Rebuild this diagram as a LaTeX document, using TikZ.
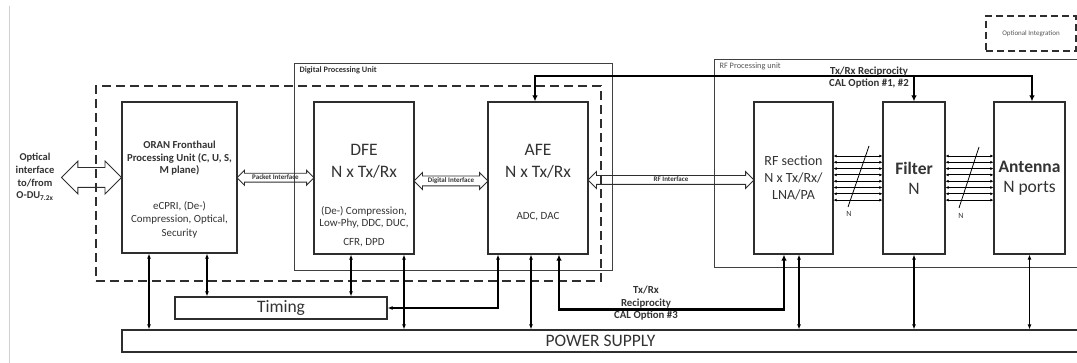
\documentclass[tikz,border=0pt]{standalone}
\usepackage{fontspec}
\setmainfont{Carlito}
\usetikzlibrary{arrows.meta,positioning,calc,shapes.arrows}
\definecolor{ink}{HTML}{333333}
\definecolor{edge}{HTML}{2E2E2E}
\definecolor{frame}{HTML}{404040}
\definecolor{hint}{HTML}{555555}
\definecolor{rim}{HTML}{D0D0D0}

\begin{document}
\begin{tikzpicture}[x=1pt,y=-1pt,
  block/.style={draw=edge,line width=1.2pt,inner sep=0pt,align=center,text=ink},
  unitbox/.style={draw=frame,line width=0.9pt,inner sep=0pt},
  optbox/.style={draw=edge,line width=1.4pt,dash pattern=on 9pt off 5pt,inner sep=0pt},
  big/.style={font=\fontsize{17.5}{22}\selectfont,text=ink,align=center},
  small/.style={font=\fontsize{11}{12.5}\selectfont,text=ink,align=center},
  tag/.style={font=\bfseries\fontsize{10.8}{12.8}\selectfont,text=ink,align=center},
  hollow/.style={double arrow,draw=edge,line width=0.9pt,inner xsep=0pt,
    font=\bfseries\fontsize{7}{8}\selectfont,text=ink,double arrow head extend=#1},
  link/.style={draw=black,line width=1.1pt,{Latex[length=5pt,width=4pt]}-{Latex[length=5pt,width=4pt]}},
  recip/.style={draw=black,line width=2.2pt,{Latex[length=6pt,width=5.5pt]}-{Latex[length=6pt,width=5.5pt]}},
  recipto/.style={draw=black,line width=2.2pt,-{Latex[length=6pt,width=5.5pt]}},
  bus/.style={draw=black,line width=0.8pt,{Latex[length=3pt,width=3pt]}-{Latex[length=3pt,width=3pt]}}]
  \useasboundingbox (0,0) rectangle (1077,363);
  \draw[rim,line width=1pt] (9.5,6) -- (9.5,363);

  % Unit frames
  \node[unitbox,minimum width=318,minimum height=207] (dpu) at (453,166.5) {};
  \node[font=\bfseries\fontsize{8.3}{10}\selectfont,text=ink,anchor=west] (dpuT) at (296,70) {Digital Processing Unit};
  \node[unitbox,minimum width=368,minimum height=208] (rfu) at (898,163) {};
  \node[font=\fontsize{8.3}{10}\selectfont,text=hint,anchor=west] (rfuT) at (716,66) {RF Processing unit};
  \node[optbox,minimum width=505,minimum height=195] (integ) at (348.5,183.5) {};
  \node[optbox,line width=1.2pt,dash pattern=on 7pt off 4pt,minimum width=90,minimum height=35,
    font=\fontsize{7}{8}\selectfont,text=hint] (legend) at (1031,33.5) {Optional Integration};

  % Blocks
  \node[block,minimum width=115,minimum height=151] (oran) at (179.5,177.5) {};
  \node[font=\bfseries\fontsize{10.7}{12.5}\selectfont,text=ink,align=center] (oranT) at (179.5,158.5)
    {ORAN Fronthaul\\Processing Unit (C, U, S,\\M plane)};
  \node[font=\fontsize{10.9}{13.5}\selectfont,text=ink,align=center] (oranS) at (179.5,219.5)
    {eCPRI, (De-)\\Compression, Optical,\\Security};
  \node[block,minimum width=100,minimum height=152] (dfe) at (364,178) {};
  \node[big] (dfeT) at (364,161) {DFE\\N x Tx/Rx};
  \node[small] (dfeS) at (364,226.5) {(De-) Compression,\\Low-Phy, DDC, DUC,\\[6pt]CFR, DPD};
  \node[block,minimum width=100,minimum height=152] (afe) at (538,178) {};
  \node[big] (afeT) at (538,161) {AFE\\N x Tx/Rx};
  \node[small] (afeS) at (538,217) {ADC, DAC};
  \node[block,minimum width=79,minimum height=152,font=\fontsize{14}{17}\selectfont] (rfsec) at (793.5,178)
    {RF section\\N x Tx/Rx/\\LNA/PA};
  \node[block,minimum width=62,minimum height=152,font=\fontsize{17.5}{20}\selectfont] (filter) at (914,178)
    {\textbf{Filter}\\N};
  \node[block,minimum width=71,minimum height=152,font=\fontsize{17.5}{20}\selectfont] (ant) at (1029.5,178)
    {\textbf{Antenna}\\N ports};
  \node[block,minimum width=212,minimum height=22,font=\fontsize{17.5}{20}\selectfont] (timing) at (281,308) {Timing};
  \node[block,minimum width=957,minimum height=22,font=\fontsize{17.5}{20}\selectfont] (power) at (600.5,341) {POWER SUPPLY};

  % Interfaces
  \node[font=\bfseries\fontsize{10.5}{12.7}\selectfont,text=ink,align=center] (optical) at (35,177)
    {Optical\\interface\\to/from\\O-DU\textsubscript{7.2x}};
  \path (oran.west) -- ++(-60,0) node[midway,hollow=6.5pt,minimum height=60,text height=19pt,text depth=0pt,inner ysep=0pt] (optarr) {};
  \path (oran.east) -- (dfe.west) node[midway,hollow=3pt,minimum height=77,text height=5.5pt,text depth=1.5pt,inner ysep=0.5pt] (pkt) {Packet Interface};
  \path ([yshift=-3pt]dfe.east) -- ([yshift=-3pt]afe.west) node[midway,hollow=3.5pt,minimum height=74,text height=5.5pt,text depth=1.5pt,inner ysep=1pt] (dig) {Digital Interface};
  \path ([yshift=-2pt]afe.east) -- ([yshift=-2pt]rfsec.west) node[midway,hollow=4pt,minimum height=166,text height=5.5pt,text depth=1.5pt,inner ysep=0.5pt] (rfif) {RF Interface};

  % N-wide buses
  \foreach \k [evaluate=\k as \yy using 156+6.3*\k] in {0,...,7} {
    \draw[bus] (rfsec.east |- 0,\yy) -- (filter.west |- 0,\yy);
    \draw[bus] (filter.east |- 0,\yy) -- (ant.west |- 0,\yy);
  }
  \draw[line width=0.8pt] (869,146) -- (848,207);
  \draw[line width=0.8pt] (979,147) -- (959,208);
  \node[font=\fontsize{8}{9}\selectfont,text=ink] (nA) at (849,214) {N};
  \node[font=\fontsize{8}{9}\selectfont,text=ink] (nB) at (961,216) {N};

  % Timing and power
  \draw[link] ([xshift=-30.5pt]oran.south) -- ([xshift=-30.5pt]oran.south |- power.north);
  \draw[link] ([xshift=27.5pt]oran.south) -- ([xshift=27.5pt]oran.south |- timing.north);
  \draw[link] ([xshift=-13pt]dfe.south) -- ([xshift=-13pt]dfe.south |- timing.north);
  \draw[link] ([xshift=40pt]dfe.south) -- ([xshift=40pt]dfe.south |- power.north);
  \draw[link] ([xshift=-40pt]afe.south) |- (timing.east);
  \draw[link] ([xshift=-7pt]afe.south) -- ([xshift=-7pt]afe.south |- power.north);
  \draw[link] ([xshift=5.5pt]rfsec.south) -- ([xshift=5.5pt]rfsec.south |- power.north);
  \draw[link] (filter.south) -- (filter.south |- power.north);
  \draw[link] (ant.south) -- (ant.south |- power.north);

  % Reciprocity calibration
  \draw[recip] ([xshift=-3pt]afe.north) -- ++(0,-25) coordinate (ctop) -| ([xshift=2.5pt]ant.north);
  \draw[recipto] (filter.north |- ctop) -- (filter.north);
  \node[tag] (calA) at (869,77.5) {Tx/Rx Reciprocity\\CAL Option \#1, \#2};
  \draw[recip] ([xshift=21pt]afe.south) -- ++(0,55) -| ([xshift=-9.5pt]rfsec.south);
  \node[tag,font=\bfseries\fontsize{10.8}{12.5}\selectfont] (calB) at (646,303.5) {Tx/Rx\\Reciprocity\\CAL Option \#3};
\end{tikzpicture}
\end{document}
